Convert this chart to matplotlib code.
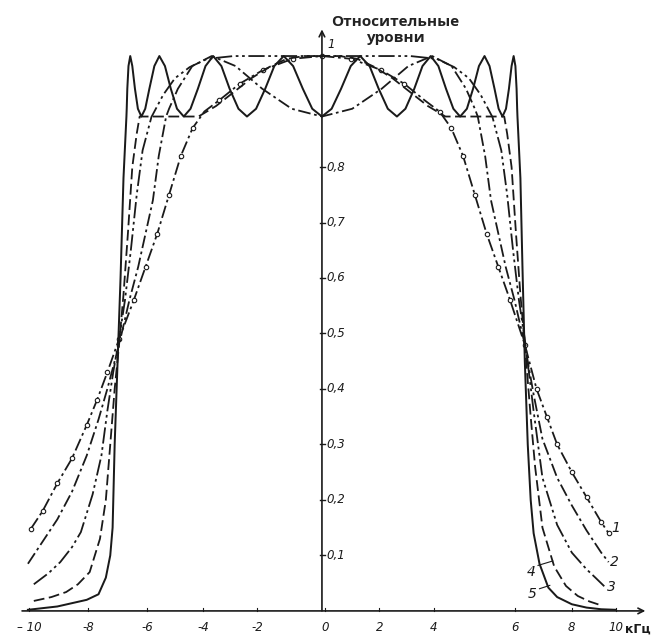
import matplotlib
matplotlib.use("Agg")
import matplotlib.pyplot as plt

# ---------------- data ----------------
# curve 1 (dash-dot with small circles) - bell shaped top, slow tails
c1_x = [-9.9, -9.5, -9.0, -8.5, -8.0, -7.65, -7.3, -6.9, -6.4, -6.0, -5.6, -5.2, -4.8,
        -4.4, -4.0, -3.5, -2.8, -2.0, -1.0, 0.0, 1.0, 2.0, 2.8, 3.5, 4.0, 4.4,
        4.8, 5.2, 5.6, 6.0, 6.4, 6.9, 7.3, 7.65, 8.0, 8.5, 9.0, 9.5, 9.75]
c1_y = [0.148, 0.18, 0.23, 0.275, 0.335, 0.38, 0.43, 0.49, 0.56, 0.62, 0.68, 0.75, 0.82,
        0.87, 0.90, 0.92, 0.95, 0.975, 0.995, 1.0, 0.995, 0.975, 0.95, 0.92, 0.90, 0.87,
        0.82, 0.75, 0.68, 0.62, 0.56, 0.48, 0.40, 0.35, 0.30, 0.25, 0.205, 0.16, 0.14]

# curve 2 (dash-dot) - dip at centre, humps near +-3.9
c2_x = [-10.0, -9.5, -9.0, -8.5, -8.0, -7.6, -7.3, -6.9, -6.55, -6.25, -6.0, -5.75, -5.55,
        -5.30, -5.20, -4.90, -4.41, -3.75, -2.94, -2.03, -1.03, 0.0,
        1.03, 2.03, 2.94, 3.75, 4.41, 4.90, 5.20, 5.30,
        5.55, 5.75, 6.0, 6.25, 6.55, 6.9, 7.2, 7.5, 8.0, 8.5, 9.0, 9.5, 9.75]
c2_y = [0.085, 0.125, 0.165, 0.215, 0.28, 0.345, 0.40, 0.48, 0.56, 0.62, 0.68, 0.74, 0.82,
        0.891, 0.905, 0.941, 0.982, 1.0, 0.982, 0.941, 0.905, 0.891,
        0.905, 0.941, 0.982, 1.0, 0.982, 0.941, 0.905, 0.891,
        0.82, 0.74, 0.68, 0.62, 0.56, 0.48, 0.39, 0.31, 0.24, 0.19, 0.145, 0.105, 0.088]

# curve 3 (long dash, dot, dot) - flat top with rounded shoulders
c3_x = [-9.8, -9.3, -8.9, -8.5, -8.2, -7.8, -7.5, -7.3, -7.1, -6.9, -6.7, -6.5, -6.3,
        -6.1, -5.8, -5.4, -5.0, -4.5, -3.9, -3.0, 0.0, 3.0, 3.9, 4.5, 5.0, 5.4, 5.8, 6.1,
        6.3, 6.5, 6.7, 6.9, 7.2, 7.5, 8.0, 8.5, 9.0, 9.3, 9.65]
c3_y = [0.048, 0.068, 0.088, 0.115, 0.142, 0.21, 0.28, 0.36, 0.43, 0.49, 0.56, 0.65, 0.75,
        0.83, 0.89, 0.93, 0.96, 0.98, 0.995, 1.0, 1.0, 1.0, 0.995, 0.98, 0.96, 0.93, 0.89, 0.83,
        0.75, 0.65, 0.56, 0.49, 0.36, 0.24, 0.155, 0.105, 0.075, 0.06, 0.042]

# curve 4 (dashed) - peak at centre, shelf at 0.89 on the sides
c4_x = [-9.8, -9.2, -8.7, -8.3, -7.9, -7.55, -7.35, -7.2, -7.05, -6.9, -6.75, -6.6, -6.45,
        -6.3, -6.2, -5.5, -4.8, -4.2, -3.6, -3.0, -2.4, -1.8, -1.2, -0.6, 0.0,
        0.6, 1.2, 1.8, 2.4, 3.0, 3.6, 4.2, 4.8, 5.5, 6.2, 6.3,
        6.45, 6.6, 6.75, 6.9, 7.1, 7.25, 7.5, 7.9, 8.3, 8.7, 9.1, 9.5]
c4_y = [0.018, 0.025, 0.034, 0.048, 0.07, 0.13, 0.2, 0.3, 0.40, 0.48, 0.57, 0.68, 0.80,
        0.86, 0.891, 0.891, 0.891, 0.891, 0.91, 0.935, 0.96, 0.98, 0.995, 1.0, 1.0,
        1.0, 0.995, 0.98, 0.96, 0.935, 0.91, 0.891, 0.891, 0.891, 0.891, 0.86,
        0.80, 0.68, 0.57, 0.48, 0.35, 0.26, 0.15, 0.08, 0.045, 0.027, 0.017, 0.01]

# curve 5 (solid) - many ripples, steepest skirts
c5_x = [-10.0, -9.0, -8.5, -8.0, -7.6, -7.35, -7.2, -7.12, -7.05, -6.95, -6.85, -6.75,
        -6.65, -6.64, -6.62, -6.58, -6.52, -6.45, -6.36, -6.26, -6.14, -6.01, -5.87, -5.70,
        -5.53, -5.34, -5.14, -4.93, -4.70, -4.47, -4.22, -3.96, -3.70, -3.42, -3.14, -2.84,
        -2.55, -2.24, -1.93, -1.62, -1.30, -0.98, -0.65, -0.33, 0.0,
        0.33, 0.65, 0.98, 1.30, 1.62, 1.93, 2.24, 2.55, 2.84, 3.14, 3.42, 3.70, 3.96, 4.22,
        4.47, 4.70, 4.93, 5.14, 5.34, 5.53, 5.70, 5.87, 6.01, 6.14, 6.26, 6.36, 6.45, 6.52,
        6.58, 6.62, 6.64, 6.65,
        6.75, 6.82, 6.9, 7.0, 7.1, 7.2, 7.4, 7.7, 8.0, 8.5, 9.0, 9.5, 10.0]
c5_y = [0.002, 0.008, 0.014, 0.02, 0.03, 0.06, 0.1, 0.15, 0.3, 0.45, 0.6, 0.78,
        0.891, 0.905, 0.941, 0.982, 1.0, 0.982, 0.941, 0.905, 0.891, 0.905, 0.941, 0.982,
        1.0, 0.982, 0.941, 0.905, 0.891, 0.905, 0.941, 0.982, 1.0, 0.982, 0.941, 0.905,
        0.891, 0.905, 0.941, 0.982, 1.0, 0.982, 0.941, 0.905, 0.891,
        0.905, 0.941, 0.982, 1.0, 0.982, 0.941, 0.905, 0.891, 0.905, 0.941, 0.982, 1.0, 0.982, 0.941,
        0.905, 0.891, 0.905, 0.941, 0.982, 1.0, 0.982, 0.941, 0.905, 0.891, 0.905, 0.941, 0.982, 1.0,
        0.982, 0.941, 0.905, 0.891,
        0.78, 0.62, 0.45, 0.30, 0.2, 0.14, 0.085, 0.042, 0.025, 0.012, 0.006, 0.003, 0.002]

y_ticks = [0.1, 0.2, 0.3, 0.4, 0.5, 0.6, 0.7, 0.8]
y_tick_labels = ["0,1", "0,2", "0,3", "0,4", "0,5", "0,6", "0,7", "0,8"]
x_label_pos = [-9.95, -7.95, -5.95, -4.05, -2.2, 0.1, 1.95, 3.8, 6.55, 8.5, 10.0]
x_labels = ["– 10", "-8", "-6", "-4", "-2", "0", "2", "4", "6", "8", "10"]
curve_numbers = ["1", "2", "3", "4", "5"]
title_lines = ["Относительные", "уровни"]
# ----------------------------------------------------------------

fig = plt.figure(figsize=(6.53, 6.37), dpi=100)
fig.patch.set_facecolor("white")
ax = fig.add_axes([0, 0, 1, 1])
ax.set_xlim(-10.95, 11.26)
ax.set_ylim(-0.047, 1.101)
ax.axis("off")

ink = "#1a1a1a"
lw = 1.3

ax.plot(c1_x, c1_y, color=ink, lw=lw, dashes=(7, 2, 1.5, 2), marker="o", ms=3.2,
        mfc="white", mec=ink, mew=0.8, markevery=0.03)
ax.plot(c2_x, c2_y, color=ink, lw=lw, dashes=(7, 2, 1.5, 2))
ax.plot(c3_x, c3_y, color=ink, lw=lw, dashes=(9, 2, 1.5, 2, 1.5, 2))
ax.plot(c4_x, c4_y, color=ink, lw=lw, dashes=(6, 2.5))
ax.plot(c5_x, c5_y, color=ink, lw=lw * 1.1, solid_joinstyle="round")

# axes with arrows
ax.annotate("", xy=(0, 1.048), xytext=(0, 0.0),
            arrowprops=dict(arrowstyle="->", lw=1.2, color=ink, shrinkA=0, shrinkB=0,
                            mutation_scale=10))
ax.annotate("", xy=(11.0, 0.0), xytext=(-10.2, 0.0),
            arrowprops=dict(arrowstyle="->", lw=1.2, color=ink, shrinkA=0, shrinkB=0,
                            mutation_scale=10))

tick_font = dict(family="DejaVu Sans", style="italic", fontsize=8.5, color=ink)
for yv, lab in zip(y_ticks, y_tick_labels):
    ax.plot([-0.05, 0.12], [yv, yv], color=ink, lw=1.0)
    ax.text(0.14, yv, lab, ha="left", va="center", **tick_font)
ax.text(0.2, 1.021, "1", ha="left", va="center", **tick_font)

for xp, lab in zip(x_label_pos, x_labels):
    ax.plot([xp, xp], [0.0, 0.006], color=ink, lw=0.8)
    ax.text(xp, -0.03, lab, ha="center", va="center", **tick_font)

ax.text(10.75, -0.032, "кГц", ha="center", va="center", fontsize=9,
        fontweight="bold", family="DejaVu Sans", color=ink)

title_font = dict(fontsize=11, fontweight="bold", family="Open Sans", color="#222222")
ax.text(2.5, 1.062, title_lines[0], ha="center", va="center", **title_font)
ax.text(2.5, 1.032, title_lines[1], ha="center", va="center", **title_font)

# curve numbers
num_font = dict(family="DejaVu Sans", style="italic", fontsize=10, color=ink)
ax.text(10.0, 0.15, curve_numbers[0], ha="center", va="center", **num_font)
ax.text(9.95, 0.088, curve_numbers[1], ha="center", va="center", **num_font)
ax.text(9.85, 0.043, curve_numbers[2], ha="center", va="center", **num_font)
ax.text(7.1, 0.07, curve_numbers[3], ha="center", va="center", **num_font)
ax.text(7.15, 0.031, curve_numbers[4], ha="center", va="center", **num_font)
ax.plot([7.35, 7.85], [0.082, 0.09], color=ink, lw=0.8)
ax.plot([7.4, 7.75], [0.04, 0.046], color=ink, lw=0.8)

fig.savefig("out.png", dpi=100, facecolor="white")
